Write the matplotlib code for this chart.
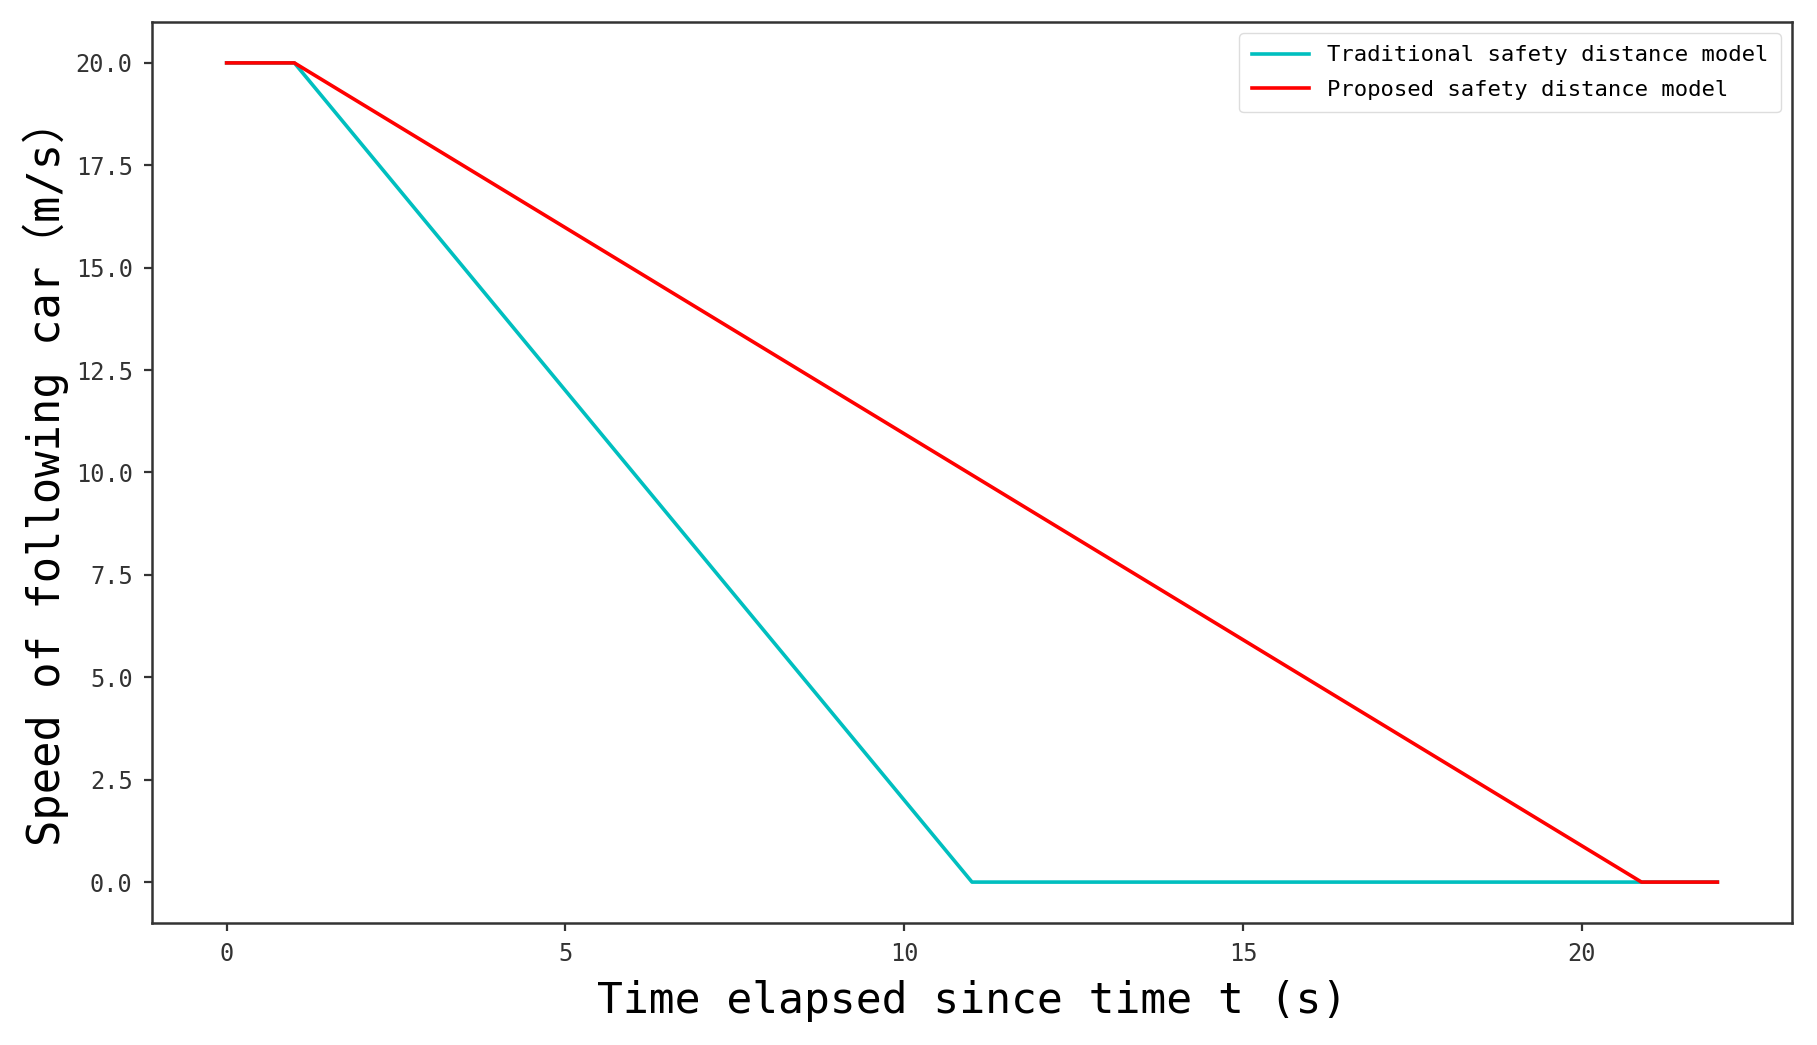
import matplotlib
matplotlib.use("Agg")
import matplotlib.pyplot as plt

# Data
time_traditional = [0, 1, 11, 22]
speed_traditional = [20, 20, 0, 0]
time_proposed = [0, 1, 20.88, 22]
speed_proposed = [20, 20, 0, 0]
label_traditional = "Traditional safety distance model"
label_proposed = "Proposed safety distance model"
xlabel = "Time elapsed since time t (s)"
ylabel = "Speed of following car\uff08m/s\uff09"
yticks = [0, 2.5, 5, 7.5, 10, 12.5, 15, 17.5, 20]
xticks = [0, 5, 10, 15, 20]

fam = ['DejaVu Sans Mono', 'Noto Sans CJK SC']
plt.rcParams['font.family'] = fam

fig = plt.figure(figsize=(18.17, 10.45), dpi=100)
ax = fig.add_axes([0.0837, 0.1167, 0.9025, 0.8623])

ax.plot(time_traditional, speed_traditional, color='c', lw=2.6, label=label_traditional)
ax.plot(time_proposed, speed_proposed, color='r', lw=2.6, label=label_proposed)

ax.set_yticks(yticks)
ax.set_yticklabels([f"{v:.1f}" for v in yticks])
ax.set_xticks(xticks)

ax.tick_params(labelsize=17, colors='#333333', width=1.6, length=6)
ax.tick_params(axis='x', pad=8)
ax.tick_params(axis='y', pad=8)
for s in ax.spines.values():
    s.set_linewidth(1.8)
    s.set_color('#333333')

ax.set_xlabel(xlabel, fontsize=31, labelpad=10)
ax.set_ylabel(ylabel, fontsize=31.5, labelpad=5)

leg = ax.legend(loc='upper right', fontsize=16, handlelength=2.6, framealpha=1,
                labelspacing=0.65, borderpad=0.55)
leg.get_frame().set_edgecolor('#dddddd')

fig.savefig("out.png", dpi=100)
